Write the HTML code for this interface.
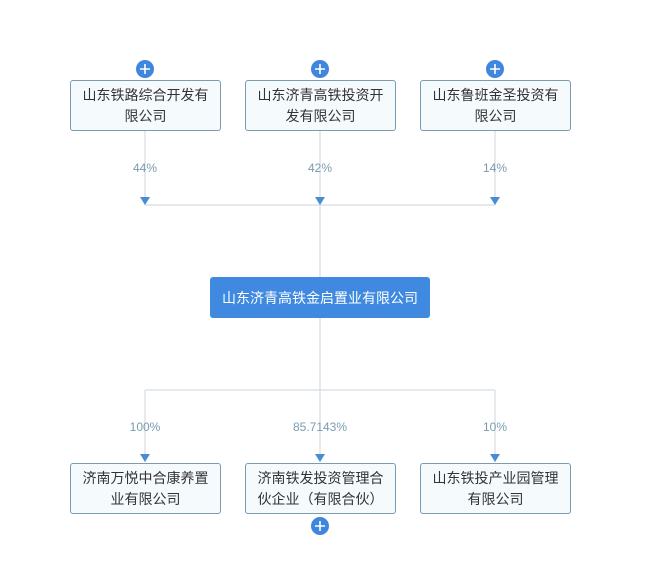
<!DOCTYPE html>
<html><head><meta charset="utf-8"><style>
body{margin:0;width:650px;height:568px;background:#fff;position:relative;overflow:hidden;font-family:"Liberation Sans","Noto Sans CJK SC",sans-serif}
.b{position:absolute;box-sizing:border-box;border:1.5px solid #7a9bb0;border-radius:3px;background:#f5fafd;color:#333;font-size:14px;line-height:21px;text-align:center;display:flex;align-items:center;justify-content:center;padding:0 10px}
.m{position:absolute;left:210px;top:277px;width:220px;height:41px;background:#3f8ae0;border-radius:3px;color:#fff;font-size:14px;display:flex;align-items:center;justify-content:center}
.p{position:absolute;font-size:12px;color:#7a9bb0;text-align:center;width:80px}
</style></head><body>
<svg width="650" height="568" style="position:absolute;left:0;top:0">
<g stroke="#d4dde4" stroke-width="1.2" fill="none">
<line x1="145" y1="131" x2="145" y2="205"/><line x1="320" y1="131" x2="320" y2="277"/><line x1="495" y1="131" x2="495" y2="205"/>
<line x1="145" y1="205" x2="495" y2="205"/>
<line x1="320" y1="318" x2="320" y2="462"/>
<line x1="145" y1="390" x2="495" y2="390"/>
<line x1="145" y1="390" x2="145" y2="462"/><line x1="495" y1="390" x2="495" y2="462"/>
</g>
<g fill="#4a8bd4">
<polygon points="140,197 150,197 145,205"/><polygon points="315,197 325,197 320,205"/><polygon points="490,197 500,197 495,205"/>
<polygon points="140,454 150,454 145,462"/><polygon points="315,454 325,454 320,462"/><polygon points="490,454 500,454 495,462"/>
</g>
<g fill="#3f86de"><circle cx="145" cy="69" r="9"/><circle cx="320" cy="69" r="9"/><circle cx="495" cy="69" r="9"/><circle cx="320" cy="526" r="9"/></g>
<g stroke="#fff" stroke-width="1.6">
<path d="M140 69h10M145 64v10M315 69h10M320 64v10M490 69h10M495 64v10M315 526h10M320 521v10"/>
</g>
</svg>
<div class="b" style="left:70px;top:80px;width:151px;height:51px">山东铁路综合开发有限公司</div>
<div class="b" style="left:245px;top:80px;width:151px;height:51px">山东济青高铁投资开发有限公司</div>
<div class="b" style="left:420px;top:80px;width:151px;height:51px">山东鲁班金圣投资有限公司</div>
<div class="p" style="left:105px;top:161px">44%</div>
<div class="p" style="left:280px;top:161px">42%</div>
<div class="p" style="left:455px;top:161px">14%</div>
<div class="m">山东济青高铁金启置业有限公司</div>
<div class="p" style="left:105px;top:420px">100%</div>
<div class="p" style="left:280px;top:420px">85.7143%</div>
<div class="p" style="left:455px;top:420px">10%</div>
<div class="b" style="left:70px;top:463px;width:151px;height:51px">济南万悦中合康养置业有限公司</div>
<div class="b" style="left:245px;top:463px;width:151px;height:51px">济南铁发投资管理合伙企业（有限合伙）</div>
<div class="b" style="left:420px;top:463px;width:151px;height:51px">山东铁投产业园管理有限公司</div>
</body></html>
